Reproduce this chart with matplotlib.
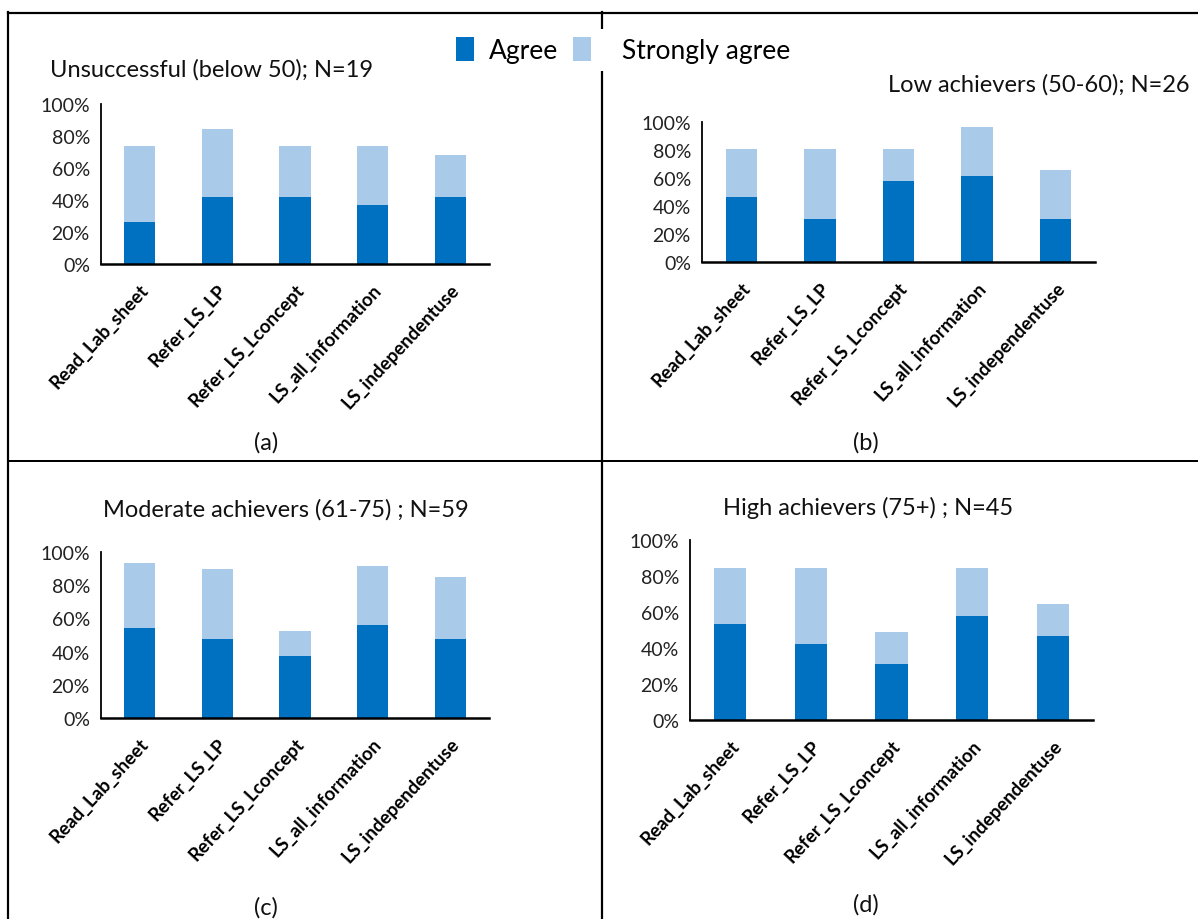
import matplotlib
matplotlib.use("Agg")
import matplotlib.pyplot as plt
from matplotlib.patches import Patch
from matplotlib.lines import Line2D
from matplotlib.ticker import PercentFormatter
import numpy as np

# Survey items shown on every panel
items = ["Read_Lab_sheet", "Refer_LS_LP", "Refer_LS_Lconcept",
         "LS_all_information", "LS_independentuse"]

# Percentage of students per achievement group (Agree / Strongly agree)
unsuccessful_agree = [26.3, 42.1, 42.1, 36.8, 42.1]
unsuccessful_strong = [47.4, 42.1, 31.6, 36.8, 26.3]

low_agree = [46.2, 30.8, 57.7, 61.5, 30.8]
low_strong = [34.6, 50.0, 23.1, 34.6, 34.6]

moderate_agree = [54.2, 47.5, 37.3, 55.9, 47.5]
moderate_strong = [39.0, 42.4, 15.3, 35.6, 37.3]

high_agree = [53.3, 42.2, 31.1, 57.8, 46.7]
high_strong = [31.1, 42.2, 17.8, 26.7, 17.8]

titles = ["Unsuccessful (below 50); N=19", "Low achievers (50-60); N=26",
          "Moderate achievers (61-75) ; N=59", "High achievers (75+) ; N=45"]
captions = ["(a)", "(b)", "(c)", "(d)"]
series_names = ["Agree", "Strongly agree"]

AGREE = "#0070C0"
STRONG = "#A9CAE9"
FONT = "Lato"

W, H = 1198, 920
fig = plt.figure(figsize=(W / 100, H / 100), dpi=100)
plt.rcParams["font.family"] = [FONT, "DejaVu Sans"]


def px_rect(x0, y0, x1, y1):
    return [x0 / W, 1 - y1 / H, (x1 - x0) / W, (y1 - y0) / H]


def fx(x):
    return x / W


def fy(y):
    return 1 - y / H


# table grid around the four panels
grid_lines = [
    ((8, 1198), (13.5, 13.5), 2.2),
    ((8, 8), (13, 920), 2.2),
    ((602, 602), (13, 920), 2.2),
    ((8, 1198), (462, 462), 2.0),
]
for xs, ys, lw in grid_lines:
    fig.add_artist(Line2D([fx(xs[0]), fx(xs[1])], [fy(ys[0]), fy(ys[1])],
                          color="black", lw=lw * 0.72, transform=fig.transFigure,
                          zorder=1))

panels = [
    (unsuccessful_agree, unsuccessful_strong, (101, 105, 489, 265)),
    (low_agree, low_strong, (702, 123, 1095, 263)),
    (moderate_agree, moderate_strong, (101, 553, 489, 719)),
    (high_agree, high_strong, (690, 541, 1093, 721)),
]
title_pos = [(212, 70, "center"), (1190, 85, "right"),
             (286, 510, "center"), (868, 508, "center")]
caption_pos = [(266, 443), (866, 443), (266, 908), (866, 905)]

x = np.arange(len(items))
for i, (agree, strong, box) in enumerate(panels):
    ax = fig.add_axes(px_rect(*box))
    a = np.array(agree) / 100
    s = np.array(strong) / 100
    ax.bar(x, a, width=0.4, color=AGREE, label=series_names[0], zorder=2)
    ax.bar(x, s, width=0.4, bottom=a, color=STRONG, label=series_names[1],
           zorder=2)
    ax.set_xlim(-0.5, len(items) - 0.5)
    ax.set_ylim(0, 1)
    ax.set_yticks(np.arange(0, 1.01, 0.2))
    ax.yaxis.set_major_formatter(PercentFormatter(1.0, decimals=0))
    ax.set_xticks(x)
    ax.set_xticklabels(items, rotation=47, ha="right", rotation_mode="anchor",
                       fontsize=13.5, fontweight="bold")
    ax.tick_params(axis="both", length=0)
    ax.tick_params(axis="x", pad=12)
    ax.tick_params(axis="y", labelsize=14, pad=8, labelcolor="#222222")
    for side in ("top", "right"):
        ax.spines[side].set_visible(False)
    ax.spines["left"].set_linewidth(1.3)
    ax.spines["bottom"].set_linewidth(1.8)
    ax.patch.set_alpha(0)

    tx, ty, ha = title_pos[i]
    fig.text(fx(tx), fy(ty), titles[i], ha=ha, va="center", fontsize=17,
             color="#111111")
    cx, cy = caption_pos[i]
    fig.text(fx(cx), fy(cy), captions[i], ha="center", va="center",
             fontsize=17, color="#111111")

# shared legend, one entry per series
legend_setup = [
    (AGREE, series_names[0], 448, 0.55),
    (STRONG, series_names[1], 565, 1.15),
]
for color, name, left, textpad in legend_setup:
    leg = fig.legend([Patch(facecolor=color)], [name], loc="center left",
                     bbox_to_anchor=(fx(left), fy(51)), fontsize=19,
                     frameon=True, fancybox=False, edgecolor="none",
                     facecolor="white", framealpha=1, handlelength=0.7,
                     handleheight=1.05, handletextpad=textpad,
                     borderpad=0.3, borderaxespad=0.0)
    leg.set_zorder(5)

fig.savefig("out.png", dpi=100, facecolor="white")
